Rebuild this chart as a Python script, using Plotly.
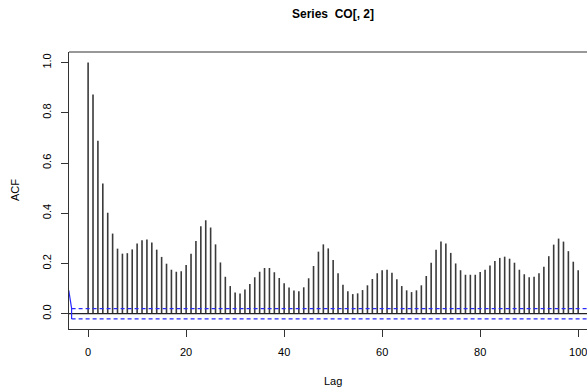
import plotly.graph_objects as go

lags = list(range(0, 101))
acf_values = [
    1.000, 0.873, 0.689, 0.518, 0.402, 0.319, 0.259, 0.239, 0.241, 0.256,
    0.279, 0.292, 0.295, 0.283, 0.255, 0.226, 0.199, 0.175, 0.167, 0.169,
    0.194, 0.239, 0.289, 0.348, 0.372, 0.343, 0.276, 0.204, 0.147, 0.110,
    0.084, 0.080, 0.096, 0.118, 0.145, 0.167, 0.182, 0.182, 0.165, 0.142,
    0.121, 0.104, 0.092, 0.089, 0.105, 0.141, 0.190, 0.247, 0.276, 0.260,
    0.214, 0.161, 0.115, 0.089, 0.078, 0.081, 0.094, 0.113, 0.138, 0.161,
    0.173, 0.175, 0.163, 0.137, 0.110, 0.093, 0.086, 0.093, 0.113, 0.150,
    0.203, 0.255, 0.287, 0.279, 0.242, 0.200, 0.173, 0.155, 0.155, 0.155,
    0.166, 0.175, 0.192, 0.210, 0.222, 0.227, 0.219, 0.203, 0.175, 0.157,
    0.145, 0.147, 0.161, 0.187, 0.229, 0.275, 0.299, 0.287, 0.249, 0.207,
    0.173,
]
conf_limit = 0.0203
x_ticks = [0, 20, 40, 60, 80, 100]
y_ticks = [0.0, 0.2, 0.4, 0.6, 0.8, 1.0]
y_tick_labels = ["0.0", "0.2", "0.4", "0.6", "0.8", "1.0"]
# stray blue segment at the left edge of the plot region
stray_x = [-3.95, -3.37, -3.37]
stray_y = [0.093, 0.021, -0.021]

X_RANGE = [-3.9, 101.8]
Y_RANGE = [-0.061, 1.042]

# build vertical spikes
bx, by = [], []
for lag, v in zip(lags, acf_values):
    bx += [lag, lag, None]
    by += [0, v, None]

fig = go.Figure()
fig.add_trace(go.Scatter(x=bx, y=by, mode="lines",
                         line=dict(color="#3a3a3a", width=1.6),
                         hoverinfo="skip", showlegend=False, cliponaxis=False))
# zero line
fig.add_trace(go.Scatter(x=X_RANGE, y=[0, 0], mode="lines",
                         line=dict(color="#222222", width=1.2),
                         hoverinfo="skip", showlegend=False))
# confidence limits
for c in (conf_limit, -conf_limit):
    fig.add_trace(go.Scatter(x=[stray_x[1], X_RANGE[1]], y=[c, c], mode="lines",
                             line=dict(color="#2a2aff", width=1.2, dash="4px,3px"),
                             hoverinfo="skip", showlegend=False))
fig.add_trace(go.Scatter(x=stray_x, y=stray_y, mode="lines",
                         line=dict(color="#2a2aff", width=1.2),
                         hoverinfo="skip", showlegend=False))

axis_font = dict(family="Liberation Sans, Arial, sans-serif", size=11, color="#000000")

fig.update_layout(
    width=587, height=388,
    margin=dict(l=69, r=0, t=52, b=59),
    paper_bgcolor="white", plot_bgcolor="white",
    xaxis=dict(range=X_RANGE, tickmode="array", tickvals=x_ticks,
               ticktext=[str(t) for t in x_ticks],
               showgrid=False, zeroline=False, showline=True,
               linecolor="#333333", linewidth=1.2,
               ticks="outside", ticklen=7, tickcolor="#333333", tickwidth=1.2,
               tickfont=axis_font, ticklabelstandoff=6,
               ticklabeloverflow="allow"),
    yaxis=dict(range=Y_RANGE, tickmode="array", tickvals=y_ticks,
               ticktext=y_tick_labels, tickangle=-90,
               showgrid=False, zeroline=False, showline=True,
               linecolor="#333333", linewidth=1.2,
               ticks="outside", ticklen=7, tickcolor="#333333", tickwidth=1.2,
               tickfont=axis_font, ticklabelstandoff=6),
    shapes=[dict(type="line", xref="paper", yref="paper", x0=0, x1=1, y0=1, y1=1,
                 line=dict(color="#333333", width=1.2))],
    annotations=[
        dict(text="<b>Series\u00a0 CO[, 2]</b>", xref="paper", yref="paper",
             x=0.51, y=1.137, showarrow=False, xanchor="center", yanchor="middle",
             font=dict(family="Liberation Sans, Arial, sans-serif", size=12, color="#000000")),
        dict(text="Lag", xref="paper", yref="paper", x=0.51, y=-0.188,
             showarrow=False, xanchor="center", yanchor="middle", font=axis_font),
        dict(text="ACF", xref="paper", yref="paper", x=-0.104, y=0.502,
             showarrow=False, xanchor="center", yanchor="middle", textangle=-90,
             font=axis_font),
    ],
)

fig.write_html("out.html")
